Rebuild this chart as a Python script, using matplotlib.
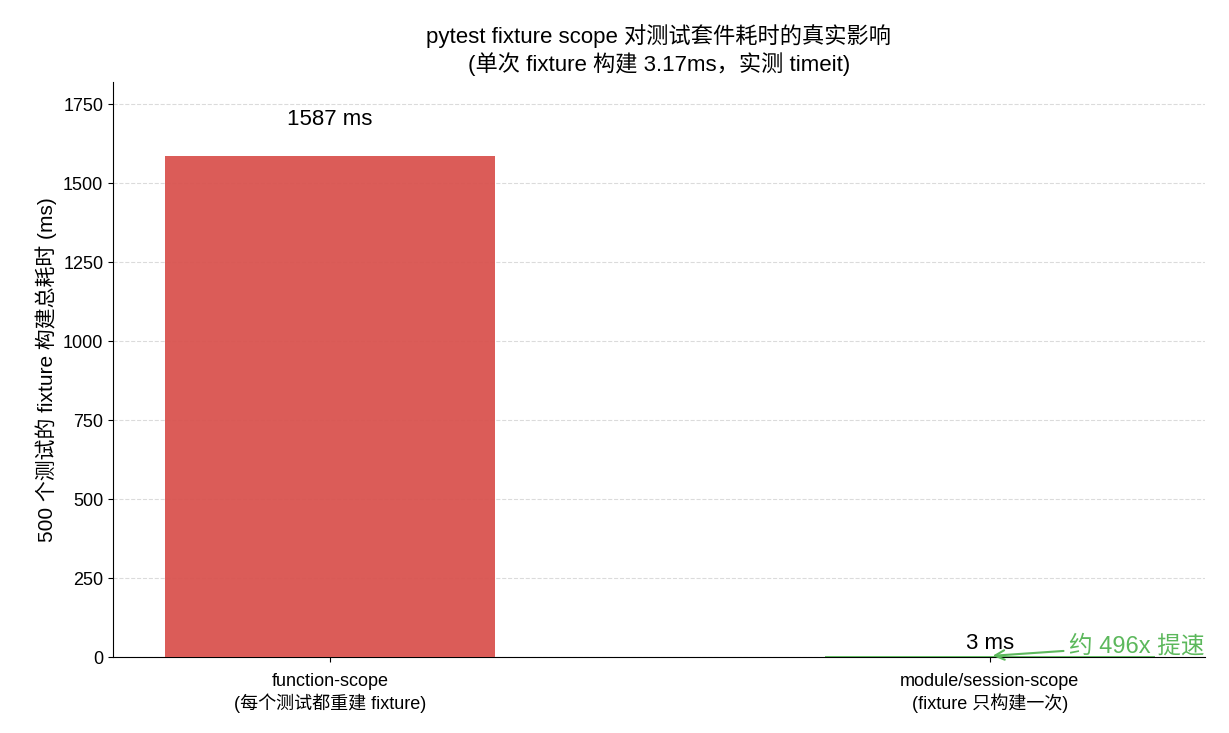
import matplotlib
matplotlib.use("Agg")
import matplotlib.pyplot as plt

plt.rcParams['font.family'] = ['Liberation Sans', 'Noto Sans CJK SC', 'DejaVu Sans']

categories = ["function-scope\n(每个测试都重建 fixture)", "module/session-scope\n(fixture 只构建一次)"]
values = [1587, 3.2]
labels = ["1587 ms", "3 ms"]
label_offsets = [80, 5]
colors = ["#d9534f", "#5cb85c"]

fig = plt.figure(figsize=(12.29, 7.33), dpi=100)
ax = fig.add_axes([113/1229, 1-657/733, (1205-113)/1229, (657-82)/733])
x = list(range(len(categories)))
ax.bar(x, values, width=0.5, color=colors, alpha=0.95, zorder=3)
for xi, v, l, o in zip(x, values, labels, label_offsets):
    ax.text(xi, v + o, l, ha='center', va='bottom', fontsize=16)
ax.set_xticks(x)
ax.set_xticklabels(categories, fontsize=13, fontstretch='condensed')
ax.tick_params(axis='y', labelsize=13)
ax.tick_params(axis='x', pad=8)
ax.set_xlim(-0.329, 1.326)
ax.set_ylim(0, 1820)
ax.set_yticks(range(0, 1751, 250))
ax.grid(axis='y', linestyle='--', color='#cccccc', alpha=0.7, zorder=0)
ax.spines['top'].set_visible(False)
ax.spines['right'].set_visible(False)
ax.set_ylabel("500 个测试的 fixture 构建总耗时 (ms)", fontsize=15, labelpad=4)
ax.set_title("pytest fixture scope 对测试套件耗时的真实影响\n(单次 fixture 构建 3.17ms，实测 timeit)", fontsize=16, pad=8)
ax.annotate(f"约 {values[0]/values[1]:.0f}x 提速", xy=(1, values[1]), xytext=(1.12, 35),
            fontsize=17, color="#5cb85c", va='center', annotation_clip=False,
            arrowprops=dict(arrowstyle='->', color="#5cb85c", lw=1.5))
fig.savefig("out.png", dpi=100)
